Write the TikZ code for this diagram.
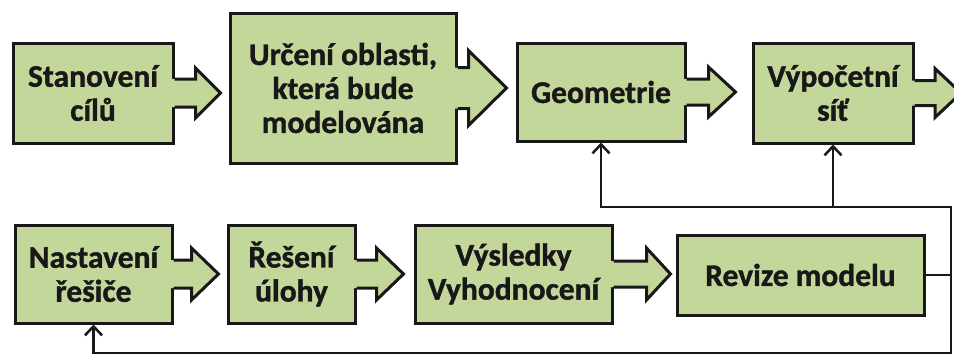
\documentclass[tikz,border=0pt]{standalone}
\usepackage{fontspec}
\setmainfont[BoldFeatures={FakeBold=1.2}]{Carlito}
\usetikzlibrary{calc,arrows.meta,shadows}

\definecolor{boxfill}{RGB}{196,215,155}
\definecolor{ink}{RGB}{24,24,24}

\tikzset{
  stage/.style={draw=ink, line width=3pt, fill=boxfill, align=center,
    inner sep=0pt, text=ink, font=\fontsize{31.5}{34}\selectfont\bfseries,
    drop shadow={opacity=0.22, shadow xshift=2pt, shadow yshift=-2pt}},
  flowfill/.style={fill=boxfill},
  flowline/.style={draw=ink, line width=3pt, line join=miter},
  link/.style={draw=ink, line width=2.5pt},
  feedback/.style={link, -{Straight Barb[length=9pt,width=17pt]}},
}

% Block arrow leaving the east side of a node.
% #1 source node, #2 tip point, #3 shaft half-height, #4 head half-height, #5 head length
\newcommand\flowarrow[5]{%
  \fill[flowfill] let \p1=(#1.east), \p2=#2 in
    (\x1-3pt,\y1+#3pt) -- (\x2-#5pt,\y1+#3pt) -- (\x2-#5pt,\y1+#4pt) -- (\x2,\y1)
    -- (\x2-#5pt,\y1-#4pt) -- (\x2-#5pt,\y1-#3pt) -- (\x1-3pt,\y1-#3pt) -- cycle;
  \draw[flowline] let \p1=(#1.east), \p2=#2 in
    (\x1,\y1+#3pt) -- (\x2-#5pt,\y1+#3pt) -- (\x2-#5pt,\y1+#4pt) -- (\x2,\y1)
    -- (\x2-#5pt,\y1-#4pt) -- (\x2-#5pt,\y1-#3pt) -- (\x1,\y1-#3pt);
}

\begin{document}
\begin{tikzpicture}[x=1pt, y=-1pt]
  \useasboundingbox[fill=white] (0,0) rectangle (954,356);
  \clip (0,0) rectangle (954,356);

  % upper row
  \node[stage, minimum width=160pt, minimum height=100pt] (s1) at (93,93) {Stanovení\\cílů};
  \node[stage, minimum width=226pt, minimum height=150pt] (s2) at (343,88) {Určení oblasti,\\která bude\\modelována};
  \node[stage, minimum width=168pt, minimum height=98pt] (s3) at (601,92) {Geometrie};
  \node[stage, minimum width=160pt, minimum height=100pt] (s4) at (833,93) {Výpočetní\\síť};
  \coordinate (s4out) at (961,91);

  % lower row
  \node[stage, minimum width=157pt, minimum height=98pt] (b1) at (93.5,274) {Nastavení\\řešiče};
  \node[stage, minimum width=127pt, minimum height=98pt] (b2) at (291.5,274) {Řešení\\úlohy};
  \node[stage, minimum width=197pt, minimum height=98pt] (b3) at (513.5,274) {Výsledky\\Vyhodnocení};
  \node[stage, minimum width=247pt, minimum height=80pt] (b4) at (800.5,275) {Revize modelu};

  % block arrows between stages
  \flowarrow{s1}{($(s2.west)+(-8pt,0)$)}{14}{25}{25}
  \flowarrow{s2}{($(s3.west)+(-9pt,0)$)}{20.5}{37.5}{38}
  \flowarrow{s3}{($(s4.west)+(-16pt,0)$)}{13}{25}{27}
  \flowarrow{s4}{(s4out)}{12.5}{24.5}{26}
  \flowarrow{b1}{($(b2.west)+(-8pt,0)$)}{14}{26}{27}
  \flowarrow{b2}{($(b3.west)+(-10pt,0)$)}{14}{26}{27}
  \flowarrow{b3}{($(b4.west)+(-5pt,0)$)}{13}{26}{24}

  % feedback loops from the model revision
  \coordinate (railtop) at (951,207);
  \coordinate (railbot) at (951,353);
  \draw[feedback] (b4.east) -| (railtop) -| (s3.south);
  \draw[feedback] (s4.south |- railtop) -- (s4.south);
  \draw[feedback] (b4.east -| railtop) -- (railbot) -| (b1.south);
\end{tikzpicture}
\end{document}
